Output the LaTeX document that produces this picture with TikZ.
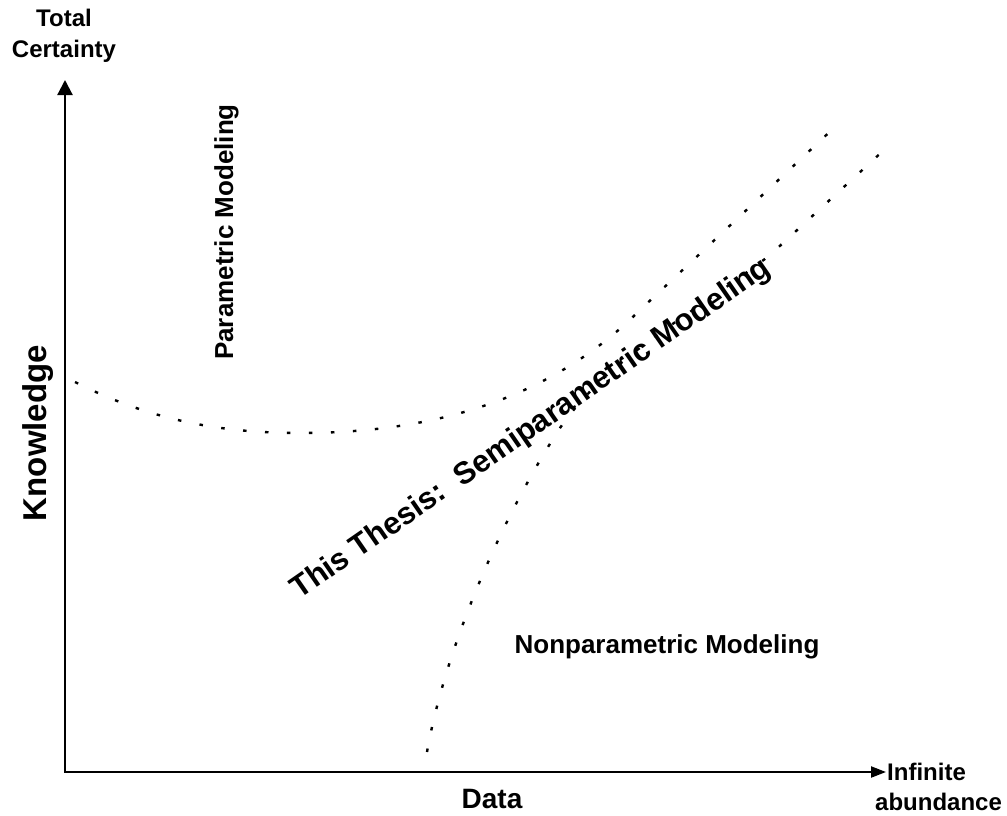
\documentclass[tikz,border=0pt]{standalone}
\usepackage{fontspec}
\setmainfont{Liberation Sans}
\usetikzlibrary{arrows.meta}
\begin{document}
\begin{tikzpicture}[x=1pt,y=-1pt,
  axisline/.style={line width=2.2pt, line join=miter},
  boundary/.style={line width=2.4pt, dash pattern=on 3.5pt off 18.5pt},
  lbl/.style={font=\bfseries\fontsize{#1}{#1}\selectfont, inner sep=0pt},
]
\path[use as bounding box] (0,0) rectangle (1007,816);

% axes
\coordinate (ytop)   at (65,80);
\coordinate (origin) at (65,772);
\coordinate (xend)   at (886,772);
\draw[axisline, {Triangle[length=15pt,width=15pt]}-{Triangle[length=15pt,width=11pt]}]
  (ytop) -- (origin) -- (xend);

% axis labels
\node[inner sep=0pt, align=center, font=\bfseries\fontsize{24}{31}\selectfont]
  (certainty) at (64,36) {Total\\Certainty};
\node[lbl=33, rotate=90, anchor=base] (knowledge) at (46,433) {Knowledge};
\node[lbl=28, anchor=base] (data) at (492,808) {Data};
\node[lbl=24, anchor=west] (infinite) at ([xshift=1pt]xend) {Infinite};
\node[lbl=24, anchor=base west] (abundance) at (875,810) {abundance};

% upper boundary: parametric region
\coordinate (pa) at (75,382);
\coordinate (pb) at (300,433);
\coordinate (pc) at (640,310);
\coordinate (pd) at (838,124);
\draw[boundary] (pa) .. controls (150,420) and (220,433) .. (pb)
  .. controls (450,433) and (560,390) .. (pc) -- (pd);

% lower boundary: nonparametric region
\coordinate (na) at (427,752);
\coordinate (nb) at (560,428);
\coordinate (nc) at (770,255);
\coordinate (nd) at (884,150);
\draw[boundary] (na) .. controls (445,650) and (500,520) .. (nb)
  .. controls (610,355) and (700,310) .. (nc) -- (nd);

% region labels
\node[lbl=26, rotate=90, anchor=base] (param) at (233,232) {Parametric Modeling};
\node[lbl=26, anchor=base] (nonparam) at (667,653) {Nonparametric Modeling};
\node[lbl=31, rotate=34.7, anchor=base] (thesis) at (536,436)
  {This Thesis:\ \ Semiparametric Modeling};
\end{tikzpicture}
\end{document}
